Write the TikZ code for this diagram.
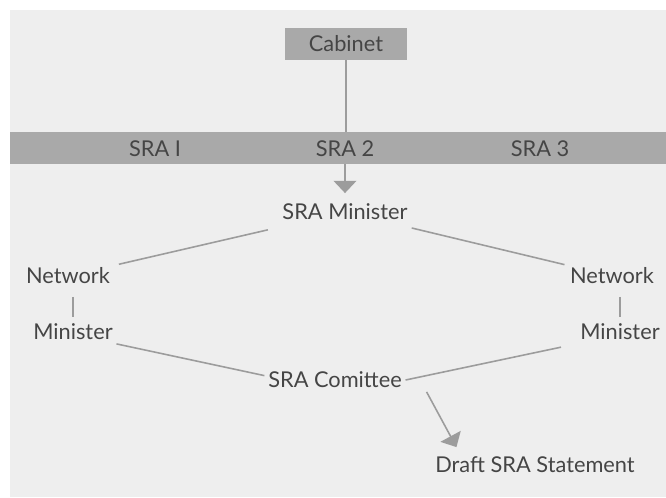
\documentclass[tikz,border=0pt]{standalone}
\usepackage{fontspec}
\setmainfont{Lato}
\usetikzlibrary{arrows.meta, positioning}
\definecolor{paper}{HTML}{EEEEEE}
\definecolor{barfill}{HTML}{A9A9A9}
\definecolor{inkgray}{HTML}{454545}
\definecolor{linegray}{HTML}{9C9C9C}

\begin{document}
\begin{tikzpicture}[
    x=0.02cm, y=-0.02cm,
    every node/.style={text=inkgray, font=\fontsize{12.4}{14}\selectfont, inner sep=2pt},
    link/.style={draw=linegray, line width=0.9pt},
    arrow/.style={link, -{Triangle[length=7pt, width=13pt]}}
]

% Background
\useasboundingbox (0,0) rectangle (666,497);
\fill[white] (0,0) rectangle (666,497);
\fill[paper] (10,10) rectangle (666,497);

% Nodes
\node (cabinet) [fill=barfill, minimum width=2.44cm, minimum height=0.64cm] at (346,44) {Cabinet};
\node (band) [fill=barfill, minimum width=13.12cm, minimum height=0.64cm] at (338,148) {};
\node (sra1) at (155,149) {SRA I};
\node (sra2) at (345,149) {SRA 2};
\node (sra3) at (540,149) {SRA 3};
\node (minister) at (345,212) {SRA Minister};
\node (netl) at (68,276) {Network};
\node (minl) at (73,332) {Minister};
\node (netr) at (612,276) {Network};
\node (minr) at (620,332) {Minister};
\node (committee) at (335,380) {SRA Comittee};
\node (draft) at (535,465) {Draft SRA Statement};

% Edges
\draw [link] (cabinet.south) -- (band.north -| cabinet.south);
\draw [arrow, shorten >=4pt] (band.south -| sra2) -- (minister.north);
\draw [link, shorten <=15pt, shorten >=3pt] (minister) -- (netl);
\draw [link, shorten <=10pt, shorten >=1pt] (minister) -- (netr);
\draw [link, shorten <=5pt, shorten >=2pt] (netl.south -| minl) -- (minl.north);
\draw [link, shorten <=5pt, shorten >=2pt] (netr.south -| minr) -- (minr.north);
\draw [link] (minl.south east) -- ([yshift=2.5pt]committee.west);
\draw [link, shorten <=9pt] (minr.south west) -- (committee.east);
\draw [arrow] ([xshift=0.42cm]committee.south east) -- ([xshift=0.5cm, yshift=0.12cm]draft.north west);

\end{tikzpicture}
\end{document}
